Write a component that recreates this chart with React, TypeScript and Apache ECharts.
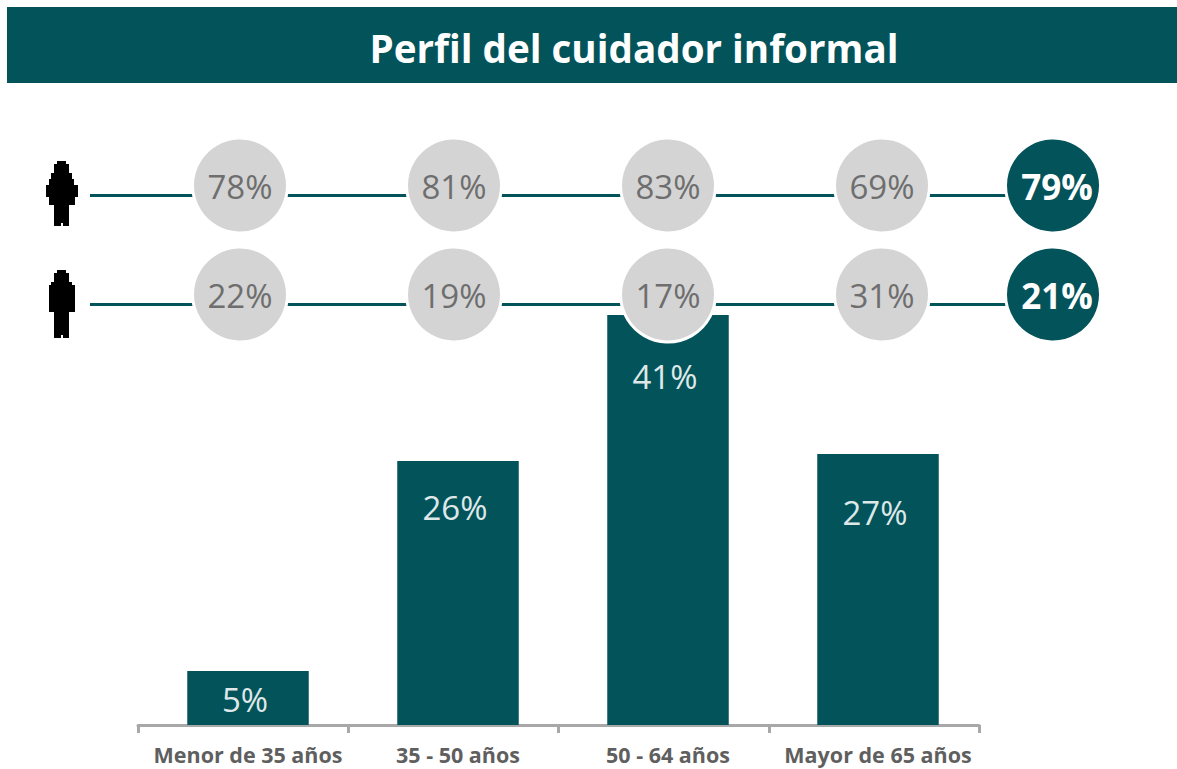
import React, { useEffect, useRef } from "react";
import * as echarts from "echarts";

const TITLE = "Perfil del cuidador informal";
const ageGroups = ["Menor de 35 años", "35 - 50 años", "50 - 64 años", "Mayor de 65 años"];
const ageShare = [5.4, 26.4, 41, 27.1];
const labelDrops = [7, 25, 40, 37];
const genders = ["Mujer", "Hombre"];
const womenByAge = [78, 81, 83, 69];
const menByAge = [22, 19, 17, 31];
const totalLabel = ["Total"];
const womenTotal = [79];
const menTotal = [21];

const TEAL = "#03535a";
const FONT = "'Open Sans', sans-serif";

const woman = [[57,161],[66,161],[66,164],[69,164],[69,173],[72,173],[72,179],[74,179],[74,185],[78,185],[78,197],[75,197],[75,205],[69,205],[69,226],[63,226],[63,223],[61,223],[61,226],[54,226],[54,205],[49,205],[49,197],[46,197],[46,185],[49,185],[49,179],[51,179],[51,173],[54,173],[54,164],[57,164]];
const man = [[57,270],[66,270],[66,273],[69,273],[69,282],[72,282],[72,285],[75,285],[75,312],[69,312],[69,338],[63,338],[63,335],[61,335],[61,338],[54,338],[54,312],[49,312],[49,285],[51,285],[51,282],[54,282],[54,273],[57,273]];

const pct = (v: number) => `${Math.round(v)}%`;

function circleSeries(name: string, xi: number, yi: number, cats: string[], row: string, vals: number[], fill: string, text: string, weight: string, size: number, dx: number) {
  return {
    type: "scatter", name, xAxisIndex: xi, yAxisIndex: yi, symbol: "circle", symbolSize: 95, z: 5,
    itemStyle: { color: fill, borderColor: "#ffffff", borderWidth: 3, opacity: 1 },
    label: { show: true, position: "inside", offset: [dx, 1], formatter: (p: any) => pct(p.data[2]), color: text, fontFamily: FONT, fontSize: size, fontWeight: weight },
    data: vals.map((v, i) => [cats[i], row, v]),
  };
}

function connector(row: string) {
  return {
    type: "line", xAxisIndex: 3, yAxisIndex: 3, symbol: "none", z: 1, silent: true,
    lineStyle: { color: TEAL, width: 3 },
    data: [["a", row], ["b", row]],
  };
}

export default function App() {
  const ref = useRef<HTMLDivElement>(null);
  useEffect(() => {
    const chart = echarts.init(ref.current!, undefined, { renderer: "svg" });
    chart.setOption({
      animation: false,
      backgroundColor: "#ffffff",
      title: {
        text: TITLE, left: 629, top: 18, textAlign: "center",
        textStyle: { color: "#ffffff", fontFamily: FONT, fontSize: 38.6, fontWeight: "bold", lineHeight: 50 },
      },
      graphic: [
        { type: "rect", z: -10, shape: { x: 7, y: 7, width: 1170, height: 76 }, style: { fill: TEAL } },
        { type: "polygon", shape: { points: woman }, style: { fill: "#000000" } },
        { type: "polygon", shape: { points: man }, style: { fill: "#000000" } },
      ],
      grid: [
        { left: 143, width: 840, top: 315, height: 410 },
        { left: 138, width: 841, top: 315, height: 410 },
        { left: 133, width: 856, top: 131, height: 218 },
        { left: 90, width: 917, top: 141, height: 218 },
        { left: 1003, width: 100, top: 131, height: 218 },
      ],
      xAxis: [
        { gridIndex: 0, type: "category", data: ageGroups, axisLine: { show: false }, axisTick: { show: false },
          axisLabel: { interval: 0, color: "#5f5f5f", fontFamily: FONT, fontSize: 21.5, fontWeight: "bold", lineHeight: 20, margin: 19 } },
        { gridIndex: 1, type: "category", data: ageGroups, axisLabel: { show: false },
          axisLine: { show: true, lineStyle: { color: "#a8a8a8", width: 3 } },
          axisTick: { show: true, interval: 0, length: 8, lineStyle: { color: "#a8a8a8", width: 3 } } },
        { gridIndex: 2, type: "category", data: ageGroups, show: false },
        { gridIndex: 3, type: "category", data: ["a", "b"], boundaryGap: false, show: false },
        { gridIndex: 4, type: "category", data: totalLabel, show: false },
      ],
      yAxis: [
        { gridIndex: 0, type: "value", min: 0, max: 41, show: false },
        { gridIndex: 1, type: "value", min: 0, max: 41, show: false },
        { gridIndex: 2, type: "category", data: genders, inverse: true, show: false },
        { gridIndex: 3, type: "category", data: genders, inverse: true, show: false },
        { gridIndex: 4, type: "category", data: genders, inverse: true, show: false },
      ],
      series: [
        connector(genders[0]),
        connector(genders[1]),
        {
          type: "bar", xAxisIndex: 0, yAxisIndex: 0, barWidth: 121.5, z: 2,
          itemStyle: { color: TEAL },
          data: ageShare.map((v, i) => ({
            value: v,
            label: {
              show: true, position: "insideTop", offset: [-3, labelDrops[i]],
              formatter: pct(v), color: "#dfe8e8", fontFamily: FONT, fontSize: 33,
            },
          })),
        },
        circleSeries("Mujer", 2, 2, ageGroups, genders[0], womenByAge, "#d4d4d4", "#6e6e6e", "normal", 33, 0),
        circleSeries("Hombre", 2, 2, ageGroups, genders[1], menByAge, "#d4d4d4", "#6e6e6e", "normal", 33, 0),
        circleSeries("Mujer total", 4, 4, totalLabel, genders[0], womenTotal, TEAL, "#ffffff", "bold", 35, 4),
        circleSeries("Hombre total", 4, 4, totalLabel, genders[1], menTotal, TEAL, "#ffffff", "bold", 35, 4),
      ],
    });
    return () => chart.dispose();
  }, []);
  return <div ref={ref} style={{ position: "absolute", left: 0, top: 0, width: 1177, height: 769 }} />;
}
